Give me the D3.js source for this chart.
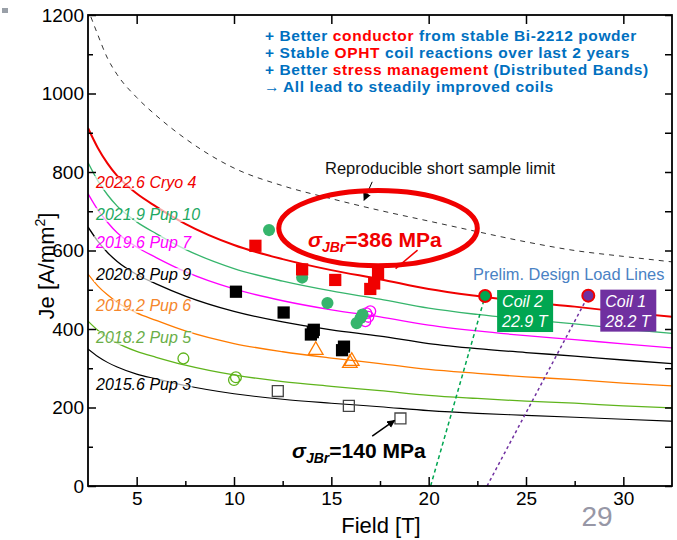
<!DOCTYPE html>
<html>
<head>
<meta charset="utf-8">
<script src="https://cdn.jsdelivr.net/npm/d3@7"></script>
<style>
  body { margin: 0; background: #fff; }
  svg text { font-family: "Liberation Sans", Arial, sans-serif; }
</style>
</head>
<body>
<svg id="chart"></svg>
<script>
// ---- data ----
// field grid (T) for the fitted Je(B) curves
const fieldGrid = [2.5, 3, 3.5, 4, 5, 6, 7.5, 10, 12.5, 15, 17.5, 20, 22.5, 25, 27.5, 30, 32.5];
const jeCryo4 = [912, 862, 822, 790, 745, 712, 668, 614, 578, 550, 527, 502, 484, 469, 457, 443, 431];
const jePup10 = [824, 778, 742, 713, 673, 643, 603, 554, 522, 497, 476, 453, 437, 424, 413, 400, 389];
const jePup7  = [745, 704, 672, 645, 609, 582, 546, 502, 472, 449, 431, 410, 395, 383, 373, 362, 352];
const jePup9  = [660, 624, 595, 572, 539, 515, 484, 445, 418, 398, 382, 363, 350, 340, 331, 321, 312];
const jePup6  = [540, 510, 487, 468, 441, 422, 395, 363, 342, 326, 312, 297, 287, 278, 271, 262, 255];
const jePup5  = [420, 397, 379, 364, 343, 328, 308, 283, 266, 254, 243, 231, 223, 216, 211, 204, 199];
const jePup3  = [349, 330, 315, 303, 285, 273, 256, 235, 221, 211, 202, 192, 185, 180, 175, 170, 165];

// reproducible short sample limit (dashed)
const limitField = [2.65, 3, 3.5, 4, 5, 6, 7.5, 10, 12.5, 15, 17.5, 20, 22.5, 25, 27.5, 30, 32.5];
const limitJe    = [1195, 1150, 1090, 1048, 990, 944, 885, 810, 765, 732, 702, 675, 648, 622, 600, 585, 571];

// measured coil points [field, Je]
const ptsCryo4 = [[11.1, 612], [13.5, 552], [15.2, 525], [17.0, 502], [17.2, 516], [17.4, 540]];
const ptsPup10 = [[11.8, 652], [13.5, 531], [14.8, 466], [16.3, 415], [16.5, 428], [16.6, 437]];
const ptsPup7  = [[16.75, 420], [16.9, 431], [16.8, 440], [17.0, 445]];
const ptsPup9  = [[10.1, 495], [12.55, 442], [13.95, 386], [14.05, 392], [14.1, 398], [15.55, 346], [15.65, 355]];
const ptsPup6  = [[14.2, 346], [15.95, 313], [16.05, 318]];
const ptsPup5  = [[7.4, 325], [10.0, 270], [10.1, 277]];
const ptsPup3  = [[12.25, 242], [15.9, 204], [18.55, 172]];

// design points and load lines
const coilNames  = ['Coil 2', 'Coil 1'];
const coilField  = [22.9, 28.2];
const coilJe     = [484, 485];
const loadLineB0 = [20.1, 23.0];   // field where the load line meets Je = 0

const xTicks = [5, 10, 15, 20, 25, 30];
const xMinor = [7.5, 12.5, 17.5, 22.5, 27.5];
const yTicks = [0, 200, 400, 600, 800, 1000, 1200];
const yMinor = [100, 300, 500, 700, 900, 1100];

// ---- series styling ----
const series = [
  {label: '2022.6 Cryo 4', je: jeCryo4, pts: ptsCryo4, color: '#f00000', text: '#f00000', lw: 2,   labelY: 188, sym: 'square', filled: true},
  {label: '2021.9 Pup 10', je: jePup10, pts: ptsPup10, color: '#36b56c', text: '#22a862', lw: 1.3, labelY: 220, sym: 'circle', filled: true},
  {label: '2019.6 Pup 7',  je: jePup7,  pts: ptsPup7,  color: '#ff00ff', text: '#ff00ff', lw: 1.3, labelY: 248, sym: 'circle', filled: false},
  {label: '2020.8 Pup 9',  je: jePup9,  pts: ptsPup9,  color: '#000000', text: '#000000', lw: 1.3, labelY: 280, sym: 'square', filled: true},
  {label: '2019.2 Pup 6',  je: jePup6,  pts: ptsPup6,  color: '#ff7b00', text: '#f5862c', lw: 1.3, labelY: 311, sym: 'triangle', filled: false},
  {label: '2018.2 Pup 5',  je: jePup5,  pts: ptsPup5,  color: '#5fb41c', text: '#6aae48', lw: 1.3, labelY: 343, sym: 'circle', filled: false},
  {label: '2015.6 Pup 3',  je: jePup3,  pts: ptsPup3,  color: '#000000', text: '#000000', lw: 1.1, labelY: 390, sym: 'square', filled: false}
];
const coilColors = ['#00a651', '#7030a0'];

const W = 677, H = 540;
const svg = d3.select('#chart').attr('width', W).attr('height', H);

const x = d3.scaleLinear().domain([2.5, 32.5]).range([88, 672]);
const y = d3.scaleLinear().domain([0, 1200]).range([486, 15]);

svg.append('defs').append('clipPath').attr('id', 'plotClip')
  .append('rect').attr('x', 88).attr('y', 15).attr('width', 584).attr('height', 471);

svg.select('defs').append('marker')
    .attr('id', 'arrow').attr('viewBox', '0 0 10 10')
    .attr('refX', 9).attr('refY', 5)
    .attr('markerWidth', 8).attr('markerHeight', 8)
    .attr('markerUnits', 'userSpaceOnUse').attr('orient', 'auto')
  .append('path').attr('d', 'M0,0L10,5L0,10z').attr('fill', '#000');

// small slide icon in the corner
svg.append('rect').attr('x', 2).attr('y', 8).attr('width', 6).attr('height', 5)
  .attr('fill', '#9aa0a8');

const plot = svg.append('g').attr('clip-path', 'url(#plotClip)');

// ---- curves ----
const line = d3.line()
  .x(d => x(d[0])).y(d => y(d[1]))
  .curve(d3.curveMonotoneX);

plot.append('path')
  .datum(d3.zip(limitField, limitJe))
  .attr('d', line)
  .attr('fill', 'none').attr('stroke', '#333').attr('stroke-width', 1)
  .attr('stroke-dasharray', '5,5');

series.slice().reverse().forEach(s => {
  plot.append('path')
    .datum(d3.zip(fieldGrid, s.je))
    .attr('d', line)
    .attr('fill', 'none')
    .attr('stroke', s.color)
    .attr('stroke-width', s.lw);
});

// ---- curve labels with translucent white backing ----
series.forEach(s => {
  const g = svg.append('g');
  const t = g.append('text')
    .attr('x', 96).attr('y', s.labelY)
    .attr('font-size', 16).attr('font-style', 'italic')
    .attr('fill', s.text)
    .text(s.label);
  const bb = t.node().getBBox();
  g.insert('rect', 'text')
    .attr('x', bb.x - 1).attr('y', bb.y + 2)
    .attr('width', bb.width + 2).attr('height', bb.height - 3)
    .attr('fill', '#fff').attr('opacity', 0.65);
});

// ---- load lines ----
coilNames.forEach((c, i) => {
  plot.append('line')
    .attr('x1', x(loadLineB0[i])).attr('y1', y(0))
    .attr('x2', x(coilField[i])).attr('y2', y(coilJe[i]))
    .attr('stroke', coilColors[i]).attr('stroke-width', 1.5)
    .attr('stroke-dasharray', i === 0 ? '4,3' : '3,3');
});

// ---- markers ----
const symType = {square: d3.symbolSquare, circle: d3.symbolCircle, triangle: d3.symbolTriangle};
const symSize = {square: 150, circle: 115, triangle: 115};

series.slice().reverse().forEach(s => {
  plot.selectAll(null)
    .data(s.pts)
    .join('path')
      .attr('transform', d => `translate(${x(d[0])},${y(d[1])})`)
      .attr('d', d3.symbol().type(symType[s.sym]).size(s.filled ? symSize[s.sym] : symSize[s.sym] * 0.8))
      .attr('fill', s.filled ? s.color : 'none')
      .attr('stroke', s.filled ? 'none' : (s.color === '#000000' ? '#444' : s.color))
      .attr('stroke-width', 1.3);
});

// design points
coilNames.forEach((c, i) => {
  const cx = x(coilField[i]), cy = y(coilJe[i]);
  svg.append('circle')
    .attr('cx', cx).attr('cy', cy).attr('r', 6)
    .attr('fill', coilColors[i]).attr('stroke', '#f00000').attr('stroke-width', 2);
  const bx = cx + 12, by = cy - 6;
  svg.append('rect')
    .attr('x', bx).attr('y', by).attr('width', 56).attr('height', 42)
    .attr('fill', coilColors[i]);
  svg.append('text')
    .attr('x', bx + 5).attr('y', by + 17)
    .attr('font-size', 16).attr('font-style', 'italic').attr('fill', '#fff')
    .text(c);
  svg.append('text')
    .attr('x', bx + 5).attr('y', by + 37)
    .attr('font-size', 16).attr('font-style', 'italic').attr('fill', '#fff')
    .text(`${coilField[i]} T`);
});

svg.append('text')
  .attr('x', 473).attr('y', 280)
  .attr('font-size', 16.4).attr('fill', '#4a82c4')
  .text('Prelim. Design Load Lines');

// ---- annotations ----
svg.append('text')
  .attr('x', 325).attr('y', 174)
  .attr('font-size', 16.5).attr('fill', '#111')
  .text('Reproducible short sample limit');

svg.append('line')
  .attr('x1', x(17.1)).attr('y1', y(775))
  .attr('x2', x(16.68)).attr('y2', y(728))
  .attr('stroke', '#000').attr('stroke-width', 1)
  .attr('marker-end', 'url(#arrow)');

svg.append('ellipse')
  .attr('cx', x(17.4)).attr('cy', y(657))
  .attr('rx', x(17.4 + 5.1) - x(17.4)).attr('ry', y(657 - 96) - y(657))
  .attr('fill', 'none').attr('stroke', '#f00000').attr('stroke-width', 5);

svg.append('line')
  .attr('x1', x(19.43)).attr('y1', y(601))
  .attr('x2', x(18.3)).attr('y2', y(554))
  .attr('stroke', '#f00000').attr('stroke-width', 1.5);

function sigmaLabel(px, py, value, color) {
  const t = svg.append('text')
    .attr('x', px).attr('y', py)
    .attr('font-size', 21).attr('font-weight', 'bold').attr('fill', color);
  t.append('tspan').attr('font-style', 'italic').text('σ');
  t.append('tspan').attr('font-style', 'italic').attr('font-size', 14).attr('dy', 5).text('JBr');
  t.append('tspan').attr('dy', -5).text(`=${value} MPa`);
}
sigmaLabel(308, 247, 386, '#f00000');
sigmaLabel(292, 458, 140, '#000');

svg.append('line')
  .attr('x1', x(17.1)).attr('y1', y(127))
  .attr('x2', x(18.25)).attr('y2', y(167))
  .attr('stroke', '#000').attr('stroke-width', 1.5)
  .attr('marker-end', 'url(#arrow)');

// ---- bullet text block ----
const bullets = [
  [['+ Better ', '#0070c0'], ['conductor', '#ff0000'], [' from stable Bi-2212 powder', '#0070c0']],
  [['+ Stable ', '#0070c0'], ['OPHT', '#ff0000'], [' coil reactions over last 2 years', '#0070c0']],
  [['+ Better ', '#0070c0'], ['stress management', '#ff0000'], [' (Distributed Bands)', '#0070c0']]
];
bullets.forEach((row, i) => {
  const t = svg.append('text')
    .attr('x', 265).attr('y', 41 + i * 17)
    .attr('font-size', 15.5).attr('font-weight', 'bold')
    .attr('letter-spacing', 0.6);
  row.forEach(r => t.append('tspan').attr('fill', r[1]).text(r[0]));
});
svg.append('text')
  .attr('x', 264).attr('y', 92)
  .attr('font-size', 15.5).attr('font-weight', 'bold').attr('fill', '#0070c0')
  .text('→');
svg.append('text')
  .attr('x', 283).attr('y', 92)
  .attr('font-size', 15.5).attr('font-weight', 'bold').attr('fill', '#0070c0')
  .attr('letter-spacing', 0.6)
  .text('All lead to steadily improved coils');

// ---- axes ----
function styleAxis(g) {
  g.select('.domain').remove();
  g.selectAll('line').attr('stroke', '#000').attr('stroke-width', 1.5);
  g.selectAll('text').attr('font-size', 19).attr('fill', '#000')
    .attr('font-family', '"Liberation Sans", Arial, sans-serif');
}

svg.append('g').attr('transform', 'translate(0,486)')
  .call(d3.axisBottom(x).tickValues(xTicks).tickSize(-9).tickPadding(6).tickFormat(d3.format('d')))
  .call(styleAxis);
svg.append('g').attr('transform', 'translate(0,486)')
  .call(d3.axisBottom(x).tickValues(xMinor).tickSize(-5).tickFormat(''))
  .call(styleAxis);
svg.append('g').attr('transform', 'translate(0,15)')
  .call(d3.axisTop(x).tickValues(xTicks).tickSize(-9).tickFormat(''))
  .call(styleAxis);

svg.append('g').attr('transform', 'translate(88,0)')
  .call(d3.axisLeft(y).tickValues(yTicks).tickSize(-8).tickPadding(4).tickFormat(d3.format('d')))
  .call(styleAxis);
svg.append('g').attr('transform', 'translate(88,0)')
  .call(d3.axisLeft(y).tickValues(yMinor).tickSize(-5).tickFormat(''))
  .call(styleAxis);
svg.append('g').attr('transform', 'translate(672,0)')
  .call(d3.axisRight(y).tickValues(yTicks.concat(yMinor)).tickSize(-7).tickFormat(''))
  .call(styleAxis);

svg.append('rect')
  .attr('x', 88).attr('y', 15).attr('width', 584).attr('height', 471)
  .attr('fill', 'none').attr('stroke', '#000').attr('stroke-width', 1.8);

// axis titles
const yt = svg.append('text')
  .attr('transform', 'translate(54,266) rotate(-90)')
  .attr('text-anchor', 'middle').attr('font-size', 22).attr('fill', '#000');
yt.append('tspan').text('Je [A/mm');
yt.append('tspan').attr('font-size', 14).attr('dy', -9).text('2');
yt.append('tspan').attr('dy', 9).text(']');

svg.append('text')
  .attr('x', 381).attr('y', 533)
  .attr('text-anchor', 'middle').attr('font-size', 22).attr('fill', '#000')
  .text('Field [T]');

// slide number (nudged left so it clears the "30" tick label)
svg.append('text')
  .attr('x', 597).attr('y', 526)
  .attr('text-anchor', 'middle').attr('font-size', 28).attr('fill', '#9797a6')
  .text('29');
</script>
</body>
</html>
